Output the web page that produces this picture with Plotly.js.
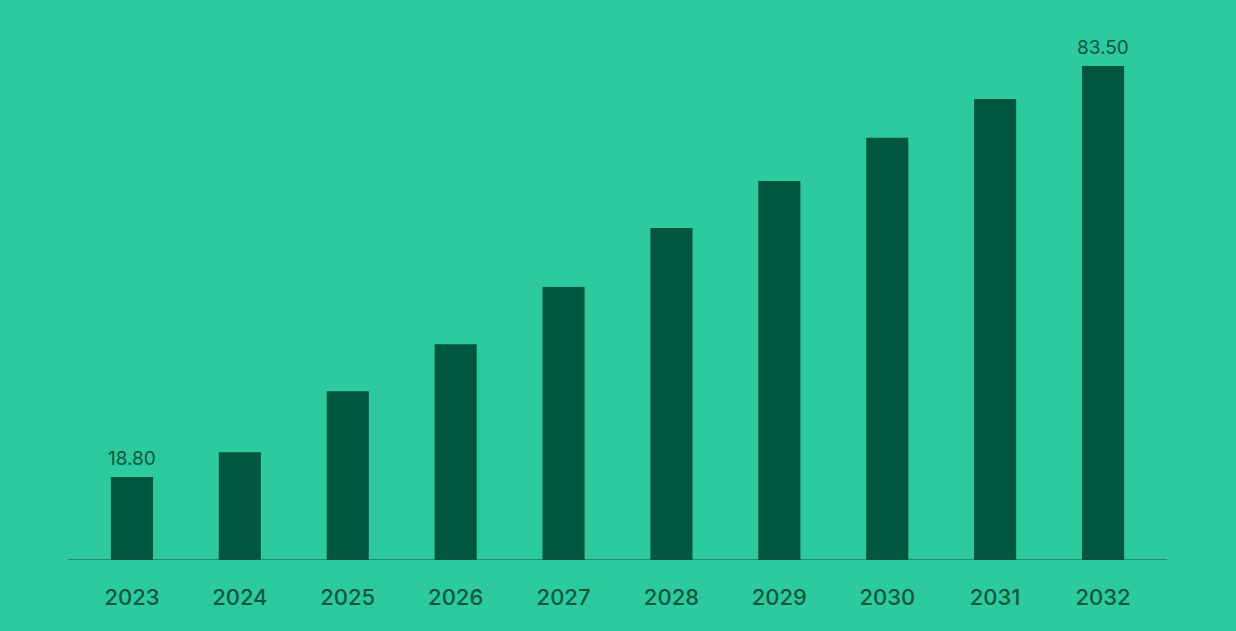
<!DOCTYPE html>
<html>
<head>
<meta charset="utf-8">
<script src="https://cdn.plot.ly/plotly-3.0.1.min.js"></script>
<style>html,body{margin:0;padding:0;background:#2DC99F;}#chart{width:1236px;height:631px;}</style>
</head>
<body>
<div id="chart"></div>
<script>
const years = ["2023","2024","2025","2026","2027","2028","2029","2030","2031","2032"];
const values = [18.8, 22.7, 32.3, 39.7, 48.7, 58.0, 65.4, 72.2, 78.3, 83.5];
const labelIdx = [0, 9];
const labelText = ["18.80", "83.50"];

const axisMin = 5.73, axisMax = 89.16;
const textColor = "#10573F";

const trace = {
  type: "bar",
  x: years,
  y: values,
  marker: {color: "#01563E"},
  width: 0.39,
  hoverinfo: "x+y"
};

const annotations = labelIdx.map((i, k) => ({
  x: i, y: values[i], xref: "x", yref: "y",
  text: labelText[k], showarrow: false, yanchor: "bottom", yshift: 5,
  font: {family: "Inter, 'Open Sans', sans-serif", size: 19, color: textColor}
}));

const layout = {
  width: 1236, height: 631,
  paper_bgcolor: "#2DC99F", plot_bgcolor: "#2DC99F",
  margin: {l: 78, r: 79, t: 30, b: 71},
  showlegend: false,
  xaxis: {
    type: "category", range: [-0.5, years.length - 0.5], autorange: false,
    showgrid: false, zeroline: false, showline: false,
    ticks: "outside", ticklen: 18, tickcolor: "rgba(0,0,0,0)",
    tickfont: {family: "Inter, 'Open Sans', sans-serif", size: 22, color: textColor, weight: 500}
  },
  yaxis: {range: [axisMin, axisMax], autorange: false, visible: false, showgrid: false, zeroline: false},
  shapes: [{type: "line", xref: "paper", yref: "y", x0: -0.0093, x1: 1.0093, y0: axisMin, y1: axisMin,
    line: {color: "#1E5544", width: 1.2}}],
  annotations: annotations
};

Plotly.newPlot("chart", [trace], layout, {displayModeBar: false, staticPlot: true});
</script>
</body>
</html>
